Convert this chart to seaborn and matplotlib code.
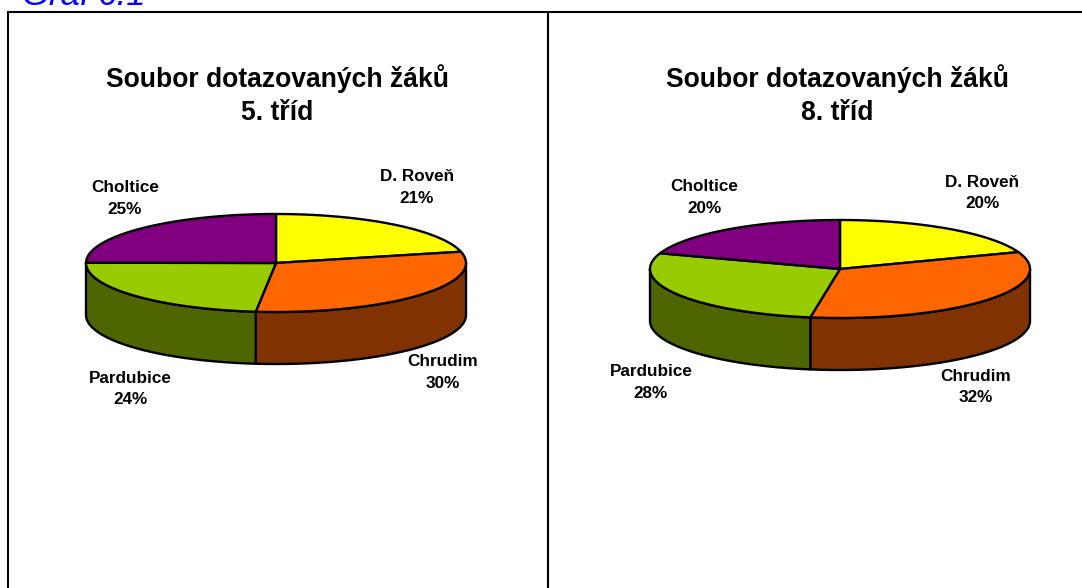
import numpy as np
import seaborn as sns
import matplotlib.pyplot as plt
from matplotlib.colors import to_rgb

places = ["D. Roveň", "Chrudim", "Pardubice", "Choltice"]
values_5 = [21.3, 30.4, 23.4, 24.9]
values_8 = [19.4, 33.1, 27.7, 19.8]
labels_5 = [21, 30, 24, 25]
labels_8 = [20, 32, 28, 20]
titles = ["Soubor dotazovaných žáků\n5. tříd", "Soubor dotazovaných žáků\n8. tříd"]
caption = "Graf č.1"

top_colors = ["#FFFF00", "#FF6600", "#99CC00", "#800080"]

W, H = 1082, 588
RX, RY, DEPTH = 190, 49, 52

sns.set_theme(style="white")
plt.rcParams["font.family"] = ["Liberation Sans", "DejaVu Sans"]


def wedge_points(cx, cy, a0, a1):
	t = np.radians(np.linspace(a0, a1, 120))
	return cx + RX * np.sin(t), cy - RY * np.cos(t)


def draw_pie(ax, cx, cy, values):
	palette = sns.color_palette(top_colors)
	edges = np.cumsum([0] + list(values)) * 3.6
	# side wall first, only the front half of the disc has one
	for i, col in enumerate(palette):
		a0, a1 = max(edges[i], 90), min(edges[i + 1], 270)
		if a1 <= a0:
			continue
		x, y = wedge_points(cx, cy, a0, a1)
		side = tuple(c * 0.5 for c in to_rgb(col))
		ax.fill(np.r_[x, x[::-1]], np.r_[y, y[::-1] + DEPTH], facecolor=side,
			edgecolor="black", linewidth=1.7, joinstyle="round", zorder=2)
	for i, col in enumerate(palette):
		x, y = wedge_points(cx, cy, edges[i], edges[i + 1])
		ax.fill(np.r_[cx, x], np.r_[cy, y], facecolor=col,
			edgecolor="black", linewidth=1.7, joinstyle="round", zorder=3)


fig = plt.figure(figsize=(W / 100, H / 100), dpi=100)
ax = fig.add_axes([0, 0, 1, 1])
ax.set_xlim(0, W)
ax.set_ylim(H, 0)
ax.axis("off")

# frame, runs off the bottom and the right of the picture
ax.plot([8, 8], [H + 5, 11.5], color="black", lw=1.5, clip_on=False)
ax.plot([8, W + 5], [11.5, 11.5], color="black", lw=1.5, clip_on=False)
ax.plot([548, 548], [11.5, H + 5], color="black", lw=1.5)

ax.text(22, 5, caption, color="#0000FF", style="italic", fontsize=25, va="baseline", ha="left")

panels = [
	(276, 263, values_5, labels_5, titles[0], 277, [(417, 187.5), (443, 372.5), (130, 389), (125, 198.5)]),
	(840, 269, values_8, labels_8, titles[1], 837, [(982, 193), (976, 387), (651, 382.5), (704, 197.5)]),
]
for cx, cy, values, labels, title, tx, label_pos in panels:
	draw_pie(ax, cx, cy, values)
	ax.text(tx, 95, title, ha="center", va="center", fontsize=19.1, fontweight="bold",
		color="black", linespacing=1.36)
	for name, v, (lx, ly) in zip(places, labels, label_pos):
		ax.text(lx, ly, "%s\n%d%%" % (name, v), ha="center", va="center",
			fontsize=12.3, fontweight="bold", color="black", linespacing=1.54)

fig.savefig("out.png", dpi=100)
